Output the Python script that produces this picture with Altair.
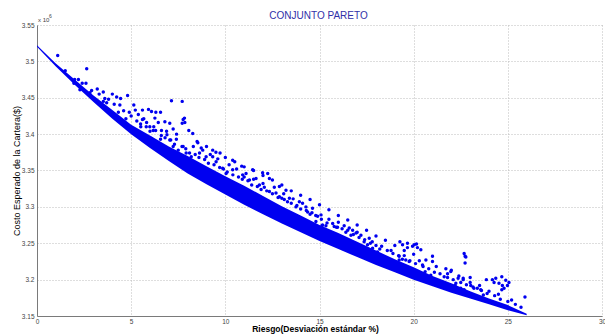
import altair as alt
import pandas as pd

# Dense efficient band (lower frontier and top of the densest region), values in millions
band_x = [0, 1, 2, 3, 4, 5, 6, 7, 8, 9, 10, 11, 12, 13, 14, 15, 16, 17, 18, 19, 20, 21, 22, 23, 24, 25, 26]
band_low = [3.520, 3.493, 3.468, 3.444, 3.421, 3.400, 3.381, 3.363, 3.346, 3.331, 3.317, 3.303, 3.290,
            3.277, 3.265, 3.253, 3.242, 3.231, 3.220, 3.210, 3.200, 3.191, 3.182, 3.174, 3.166, 3.158, 3.151]
band_high = [3.522, 3.497, 3.475, 3.453, 3.433, 3.413, 3.398, 3.383, 3.370, 3.356, 3.342, 3.329, 3.315,
             3.301, 3.288, 3.275, 3.264, 3.252, 3.240, 3.228, 3.217, 3.205, 3.195, 3.184, 3.174, 3.165, 3.153]

# Scattered (dominated) portfolios
scatter_x = [1.10, 2.64, 3.52, 4.00, 4.23, 4.44, 4.81, 5.14, 5.22, 5.60, 5.92, 6.08, 6.31, 6.56, 7.14, 7.71,
             5.38, 5.67, 5.82, 6.26, 6.44, 6.79, 7.05, 7.76, 7.85, 5.51, 5.99, 6.17, 6.61, 6.88, 7.23, 7.41,
             6.08, 6.56, 7.05, 7.23, 7.50, 7.76, 3.52, 3.70, 3.87, 4.32, 4.72, 2.81, 2.28, 1.96,
             7.83, 7.71, 8.06, 8.27, 8.54, 8.72, 9.33, 9.72, 10.39, 10.87, 11.45, 11.98, 12.25, 12.34, 11.63,
             11.10, 10.39, 10.04, 12.07, 12.34, 12.69, 12.87, 13.13, 13.40, 13.75, 14.28, 14.63, 14.90, 15.13,
             15.34, 9.33, 9.51, 8.98, 8.63, 8.19, 7.92, 9.86, 10.92, 11.28, 11.81, 12.87, 13.22, 13.93, 14.37,
             14.81, 15.08, 15.16, 15.78, 15.96, 16.31, 16.58, 16.76, 16.94, 17.20, 17.64, 16.67, 16.22, 15.87,
             17.37, 17.55, 17.82, 18.08, 18.17, 18.53, 18.79, 19.27, 19.41, 19.67, 20.03, 20.20, 20.38, 19.23,
             19.23, 19.58, 19.76, 19.41, 20.03, 20.47, 20.65, 21.00, 20.61, 20.91, 21.71, 21.97, 21.62, 22.68,
             22.77, 22.63, 22.24, 21.09, 22.73, 22.73, 22.63, 22.20, 22.50, 22.68, 23.03, 23.15, 23.38, 23.56,
             23.70, 23.86, 24.18, 24.27, 24.36, 24.53, 24.71, 24.68, 24.89, 24.98, 25.06, 24.80, 24.68, 25.91,
             19.67, 19.94, 20.15, 22.36,
             8.3, 8.8, 9.2, 9.6, 10.2, 10.6, 11.0, 11.5, 12.0, 12.6, 13.1, 13.6, 14.1, 14.6, 15.5, 16.0, 16.5,
             17.0, 17.8, 18.3, 18.8, 19.5, 20.3, 21.2, 21.8, 22.4, 23.0, 23.5, 24.0, 24.5, 25.2, 3.2, 3.8, 4.4,
             4.9, 5.6, 6.2, 6.9, 7.4, 1.5, 2.2, 2.6]
scatter_y = [3.508, 3.490, 3.458, 3.455, 3.451, 3.449, 3.453, 3.440, 3.433, 3.433, 3.434, 3.431, 3.430, 3.430, 3.446, 3.445,
             3.427, 3.421, 3.416, 3.422, 3.416, 3.417, 3.415, 3.420, 3.416, 3.410, 3.410, 3.405, 3.405, 3.404, 3.407, 3.400,
             3.394, 3.393, 3.392, 3.383, 3.378, 3.383, 3.445, 3.443, 3.431, 3.430, 3.421, 3.457, 3.461, 3.470,
             3.422, 3.415, 3.405, 3.401, 3.388, 3.381, 3.378, 3.374, 3.364, 3.356, 3.351, 3.347, 3.346, 3.339, 3.339,
             3.346, 3.351, 3.346, 3.327, 3.321, 3.319, 3.314, 3.310, 3.312, 3.300, 3.300, 3.298, 3.287, 3.274,
             3.274, 3.369, 3.362, 3.369, 3.374, 3.369, 3.374, 3.353, 3.344, 3.337, 3.330, 3.328, 3.323, 3.307, 3.293,
             3.280, 3.289, 3.275, 3.273, 3.272, 3.274, 3.271, 3.268, 3.264, 3.261, 3.257, 3.261, 3.257, 3.259,
             3.252, 3.248, 3.243, 3.238, 3.231, 3.229, 3.227, 3.252, 3.248, 3.244, 3.248, 3.244, 3.241, 3.232,
             3.227, 3.227, 3.225, 3.218, 3.213, 3.220, 3.227, 3.232, 3.211, 3.206, 3.215, 3.211, 3.204, 3.236,
             3.231, 3.202, 3.195, 3.199, 3.232, 3.223, 3.200, 3.192, 3.188, 3.186, 3.192, 3.190, 3.188, 3.186,
             3.179, 3.200, 3.200, 3.196, 3.202, 3.195, 3.192, 3.204, 3.199, 3.192, 3.196, 3.188, 3.186, 3.176,
             3.250, 3.246, 3.249, 3.202,
             3.383, 3.378, 3.372, 3.366, 3.358, 3.352, 3.341, 3.338, 3.332, 3.327, 3.318, 3.311, 3.305, 3.292,
             3.283, 3.279, 3.268, 3.265, 3.252, 3.246, 3.240, 3.233, 3.226, 3.218, 3.208, 3.205, 3.196, 3.192,
             3.184, 3.180, 3.172, 3.462, 3.448, 3.440, 3.430, 3.420, 3.410, 3.399, 3.393, 3.487, 3.475, 3.470]

# Medium-density cloud just above the dense band
cloud_x = [2.0, 2.4, 2.9, 3.3, 3.6, 4.1, 4.6, 5.0, 5.3, 5.5, 5.8, 6.0, 6.3, 6.6, 6.8, 7.1, 7.3, 7.7, 7.9, 8.1,
           8.4, 8.6, 8.9, 9.1, 9.4, 9.7, 9.9, 10.1, 10.4, 10.7, 10.9, 11.2, 11.4, 11.7, 11.9, 12.2, 12.5, 12.8,
           13.0, 13.3, 13.5, 13.8, 14.0, 14.3, 14.5, 14.8, 15.1, 15.4, 15.7, 15.9, 16.2, 16.4, 16.8, 17.1, 17.4,
           17.7, 18.0, 18.2, 18.6, 18.9, 19.2, 19.4, 19.8, 20.1, 20.5, 20.8, 21.1, 21.4, 21.8, 22.1, 22.5, 22.8,
           23.2, 23.6, 23.9, 24.3, 24.6, 25.0, 25.4, 25.7,
           8.5, 9.0, 9.5, 10.0, 10.5, 11.0, 11.5, 12.0, 12.5, 13.0, 13.5, 14.0, 14.5, 15.0, 15.5, 16.0, 16.5,
           17.0, 17.5, 18.0, 18.5, 19.0, 19.5, 20.0, 21.0, 22.0, 23.0]
cloud_y = [3.475, 3.470, 3.460, 3.455, 3.449, 3.441, 3.432, 3.425, 3.418, 3.414, 3.410, 3.404, 3.405, 3.398,
           3.395, 3.392, 3.386, 3.383, 3.380, 3.374, 3.372, 3.368, 3.365, 3.360, 3.358, 3.354, 3.352, 3.348,
           3.344, 3.341, 3.338, 3.336, 3.330, 3.328, 3.324, 3.322, 3.318, 3.313, 3.312, 3.307, 3.305, 3.302,
           3.297, 3.295, 3.290, 3.288, 3.283, 3.278, 3.277, 3.272, 3.270, 3.265, 3.262, 3.258, 3.255, 3.250,
           3.247, 3.242, 3.240, 3.236, 3.233, 3.228, 3.226, 3.222, 3.218, 3.215, 3.210, 3.208, 3.203, 3.200,
           3.196, 3.193, 3.188, 3.185, 3.181, 3.178, 3.173, 3.170, 3.166, 3.162,
           3.390, 3.383, 3.375, 3.368, 3.362, 3.355, 3.350, 3.343, 3.337, 3.330, 3.322, 3.316, 3.310, 3.303,
           3.296, 3.288, 3.282, 3.275, 3.268, 3.260, 3.254, 3.247, 3.240, 3.235, 3.225, 3.213, 3.203]

x_ticks = [0, 5, 10, 15, 20, 25, 30]
y_ticks = [3.15, 3.2, 3.25, 3.3, 3.35, 3.4, 3.45, 3.5, 3.55]

band = pd.DataFrame({"x": band_x, "lo": band_low, "hi": band_high})
pts = pd.DataFrame({"x": scatter_x + cloud_x, "y": scatter_y + cloud_y})

BLUE = "#0000f0"
FONT = "Liberation Sans"

xscale = alt.Scale(domain=[0, 30], nice=False, zero=False)
yscale = alt.Scale(domain=[3.15, 3.55], nice=False, zero=False)

xaxis = alt.Axis(values=x_ticks, tickCount=len(x_ticks), title="Riesgo(Desviación estándar %)",
                 titleFontSize=8.5, titleFont=FONT, titleFontWeight="bold", titleColor="#000000",
                 titleX=278, titleY=12.5, titleBaseline="middle", titleAlign="center",
                 labelFontSize=6.5, labelFont=FONT, labelColor="#444444", labelPadding=2,
                 labelFlush=False, labelOverlap=False, ticks=False, grid=True, gridDash=[1, 2],
                 gridColor="#bcbcbc", domainColor="#7a7a7a")
yaxis = alt.Axis(values=y_ticks, tickCount=len(y_ticks), format=".2~f",
                 title="Costo Esperado de la Cartera($)", titleFontSize=9,
                 titleFont=FONT, titleFontWeight="normal", titleColor="#000000",
                 titleX=-21, titleY=145.5, titleBaseline="middle", titleAlign="center", titleAngle=270,
                 labelFontSize=6.5, labelFont=FONT, labelColor="#444444", labelPadding=3,
                 labelFlush=False, labelOverlap=False, labelSeparation=0, ticks=False, grid=True,
                 gridDash=[1, 2], gridColor="#bcbcbc", domainColor="#7a7a7a")

area = alt.Chart(band).mark_area(color=BLUE, opacity=1).encode(
    x=alt.X("x:Q", scale=xscale, axis=xaxis),
    y=alt.Y("lo:Q", scale=yscale, axis=yaxis),
    y2="hi:Q",
)

dots = alt.Chart(pts).mark_circle(color=BLUE, size=12, opacity=1).encode(
    x=alt.X("x:Q", scale=xscale, axis=xaxis),
    y=alt.Y("y:Q", scale=yscale, axis=yaxis),
)

title = alt.Chart(pd.DataFrame({"t": ["CONJUNTO PARETO"]})).mark_text(
    fontSize=10, font=FONT, color="#3030a8", align="center", baseline="alphabetic"
).encode(x=alt.value(281.5), y=alt.value(-6), text="t:N")

mult = alt.Chart(pd.DataFrame({"t": ["x 10"]})).mark_text(
    fontSize=6, font=FONT, color="#444444", align="left", baseline="alphabetic"
).encode(x=alt.value(1), y=alt.value(-3), text="t:N")
sup = alt.Chart(pd.DataFrame({"t": ["6"]})).mark_text(
    fontSize=5, font=FONT, color="#444444", align="left", baseline="alphabetic"
).encode(x=alt.value(12), y=alt.value(-7), text="t:N")

chart = alt.layer(area, dots, title, mult, sup).properties(
    width=565, height=291,
    background="white",
    autosize=alt.AutoSizeParams(type="none"),
    padding={"left": 37, "top": 25, "right": 3, "bottom": 18},
).configure_view(strokeWidth=0)

chart.save("out.html", embed_options={"renderer": "svg", "actions": False})
